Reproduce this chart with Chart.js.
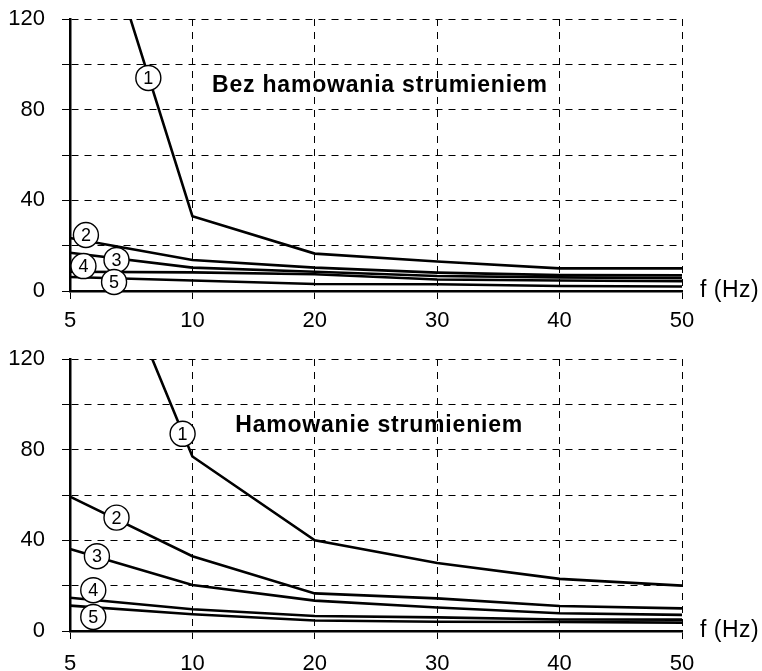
<!DOCTYPE html>
<html>
<head>
<meta charset="utf-8">
<script src="https://cdn.jsdelivr.net/npm/chart.js@4/dist/chart.umd.min.js"></script>
<style>
  body { margin: 0; background: #fff; }
  .panel { position: absolute; left: 0; width: 762px; }
  #top { top: 0; height: 335px; }
  #bottom { top: 335px; height: 336px; }
</style>
</head>
<body>
<div class="panel" id="top"><canvas id="chartTop"></canvas></div>
<div class="panel" id="bottom"><canvas id="chartBottom"></canvas></div>
<script>
const freqs = ['5', '10', '20', '30', '40', '50'];
const yLabelled = [0, 40, 80, 120];

// Bez hamowania strumieniem
const top1 = [205, 33, 16.5, 13, 10, 10];
const top2 = [23.4, 13.7, 10.3, 8.1, 7, 6.9];
const top3 = [16.9, 10.3, 8.5, 6.6, 6, 5.6];
const top4 = [8.5, 8.2, 7.4, 5.1, 4.6, 4.3];
const top5 = [6.2, 4.6, 3.1, 3.0, 2.2, 2.0];

// Hamowanie strumieniem
const bot1 = [208, 77, 40, 30, 23, 20];
const bot2 = [59.3, 33, 16.6, 14.4, 11, 10];
const bot3 = [36.2, 20.3, 13.4, 10.4, 7.8, 7.1];
const bot4 = [14.7, 9.6, 6.6, 6, 5.1, 5];
const bot5 = [11.2, 7.4, 4.6, 4.1, 4, 3.7];

// circled curve numbers: [text, category index, value]
const topMarks = [['1', 0.64, 94], ['2', 0.13, 24.7], ['3', 0.38, 13.7], ['4', 0.11, 11], ['5', 0.36, 4]];
const botMarks = [['1', 0.92, 87], ['2', 0.38, 50], ['3', 0.22, 33], ['4', 0.19, 18], ['5', 0.19, 6.2]];

const FONT = '"Liberation Sans", Arial, sans-serif';

const annotate = {
  id: 'annotate',
  afterDatasetsDraw(chart, args, opts) {
    const { ctx, chartArea, scales: { x, y } } = chart;
    ctx.save();
    ctx.fillStyle = '#000';
    ctx.textBaseline = 'middle';

    ctx.font = 'bold 23px ' + FONT;
    ctx.letterSpacing = '0.8px';
    ctx.textAlign = 'left';
    ctx.fillText(opts.title, x.getPixelForValue(opts.titleAt[0]), y.getPixelForValue(opts.titleAt[1]));

    ctx.letterSpacing = '0.5px';
    ctx.font = '23px ' + FONT;
    ctx.fillText('f (Hz)', chartArea.right + 18, y.getPixelForValue(0));
    ctx.letterSpacing = '0px';

    opts.marks.forEach(m => {
      const px = x.getPixelForValue(m[1]);
      const py = y.getPixelForValue(m[2]);
      ctx.beginPath();
      ctx.arc(px, py, 12.5, 0, Math.PI * 2);
      ctx.fillStyle = '#fff';
      ctx.fill();
      ctx.lineWidth = 1.4;
      ctx.strokeStyle = '#000';
      ctx.stroke();
      ctx.fillStyle = '#000';
      ctx.font = '18px ' + FONT;
      ctx.textAlign = 'center';
      ctx.fillText(m[0], px, py + 1);
    });
    ctx.restore();
  }
};

function makeChart(id, curves, marks, title, titleAt, areaTop, xHeight, labelPad) {
  return new Chart(document.getElementById(id), {
    type: 'line',
    data: {
      labels: freqs,
      datasets: curves.map(c => ({
        data: c,
        borderColor: '#000',
        borderWidth: 2.6,
        pointRadius: 0,
        tension: 0,
        fill: false
      }))
    },
    options: {
      responsive: true,
      maintainAspectRatio: false,
      animation: false,
      events: [],
      layout: { padding: { top: areaTop, right: 80, left: 0, bottom: 0 } },
      plugins: {
        legend: { display: false },
        tooltip: { enabled: false },
        annotate: { marks, title, titleAt }
      },
      scales: {
        x: {
          offset: false,
          afterFit: s => { s.height = xHeight; s.paddingLeft = 0; s.paddingRight = 0; },
          grid: { color: '#000', lineWidth: 1, tickLength: 8, tickColor: '#000', offset: false },
          border: { display: true, color: '#000', width: 2.5, dash: [7, 6] },
          ticks: { color: '#000', font: { family: FONT, size: 22 }, padding: labelPad, maxRotation: 0, autoSkip: false }
        },
        y: {
          min: 0,
          max: 120,
          afterFit: s => { s.width = 70; s.paddingTop = 0; s.paddingBottom = 0; },
          grid: { color: '#000', lineWidth: 1, tickLength: 8, tickColor: '#000' },
          border: { display: true, color: '#000', width: 2.5, dash: [7, 6] },
          ticks: {
            stepSize: 20,
            color: '#000',
            padding: 17,
            font: { family: FONT, size: 22 },
            callback: v => yLabelled.includes(v) ? String(v) : ''
          }
        }
      }
    },
    plugins: [annotate]
  });
}

makeChart('chartTop', [top1, top2, top3, top4, top5], topMarks,
  'Bez hamowania strumieniem', [1.16, 90.4], 19, 44, 9);
makeChart('chartBottom', [bot1, bot2, bot3, bot4, bot5], botMarks,
  'Hamowanie strumieniem', [1.35, 90.4], 24, 40, 12);
</script>
</body>
</html>
